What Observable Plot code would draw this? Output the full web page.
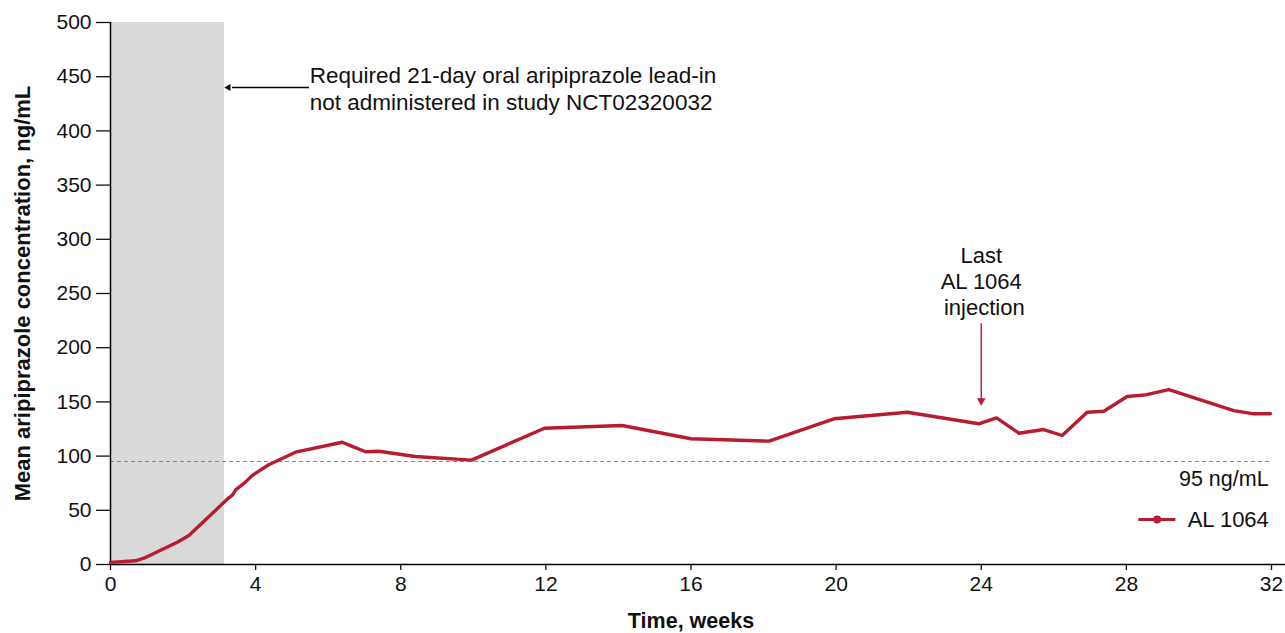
<!DOCTYPE html>
<html><head><meta charset="utf-8">
<script src="https://cdn.jsdelivr.net/npm/d3@7"></script>
<script src="https://cdn.jsdelivr.net/npm/@observablehq/plot@0.6"></script>
<style>
body{margin:0;background:#fff}
#chart{width:1285px;height:633px}
</style>
</head><body><div id="chart"></div>
<script>
// ---- data ----
const weeks = [0, 0.69, 0.92, 1.84, 2.16, 3.26, 3.36, 3.45, 3.72, 3.9, 4.36, 5.1, 6.39, 6.66, 7.03, 7.4, 8.4, 9.95, 11.96, 14.1, 16.0, 18.15, 19.94, 21.96, 23.93, 24.42, 25.04, 25.72, 26.23, 26.92, 27.38, 28.02, 28.53, 29.17, 30.96, 31.51, 31.97];
const concentration = [2, 3.4, 5.8, 20.6, 26.7, 61.5, 64, 68.9, 76, 82, 92, 103.6, 112.8, 109, 104, 104.5, 99.6, 96.3, 125.7, 128.2, 116, 113.8, 134.4, 140.5, 129.8, 135.3, 121.1, 124.5, 119, 140.5, 141.4, 155, 156.5, 161.4, 142, 139, 139];
const seriesName = "AL 1064";
const xTicks = [0, 4, 8, 12, 16, 20, 24, 28, 32];
const yTicks = [0, 50, 100, 150, 200, 250, 300, 350, 400, 450, 500];
const thresholdValue = 95;
const thresholdLabel = "95 ng/mL";
const leadInEndWeek = 3.14;
const leadInText = "Required 21-day oral aripiprazole lead-in\nnot administered in study NCT02320032";
const lastInjectionWeek = 24;
const lastInjectionText = "Last\nAL 1064\n injection";
const xLabel = "Time, weeks";
const yLabel = "Mean aripiprazole concentration, ng/mL";

const series = weeks.map((w, i) => ({week: w, value: concentration[i]}));
const red = "#b71c31";
const font = "'Liberation Sans', Arial, sans-serif";

const chart = Plot.plot({
  width: 1285,
  height: 633,
  marginLeft: 110,
  marginRight: 14,
  marginTop: 22,
  marginBottom: 69,
  style: {fontFamily: font, fontSize: "21px", color: "#111", background: "#fff"},
  x: {domain: [0, 32]},
  y: {domain: [0, 500]},
  marks: [
    // lead-in shaded band
    Plot.rect([{x1: 0, x2: leadInEndWeek}], {x1: "x1", x2: "x2", y1: 0, y2: 500, fill: "#d9d9d9"}),
    // threshold
    Plot.ruleY([thresholdValue], {x1: 0, x2: 32, stroke: "#8a8a8a", strokeWidth: 1.2, strokeDasharray: "4,3"}),
    Plot.text([thresholdLabel], {x: 31.92, y: 79, text: d => d, textAnchor: "end", fontSize: 21.5}),
    // axes
    Plot.axisY({ticks: yTicks, tickSize: 14, tickPadding: 5, label: null, fontSize: 21, strokeWidth: 1.3}),
    Plot.axisX({ticks: xTicks, tickSize: 6, tickPadding: 6, label: null, fontSize: 21, strokeWidth: 1.3}),
    Plot.ruleX([0], {y1: 0, y2: 500, stroke: "#000", strokeWidth: 1.5}),
    Plot.ruleY([0], {x1: 0, x2: 32.4, stroke: "#000", strokeWidth: 1.5}),
    // series line
    Plot.line(series, {x: "week", y: "value", stroke: red, strokeWidth: 3.4, strokeLinejoin: "round"}),
    // lead-in annotation
    Plot.link([{a: 5.47, b: 3.35}], {x1: "a", x2: "b", y1: 440, y2: 440, stroke: "#000", strokeWidth: 1.4}),
    Plot.dot([{a: 3.25}], {x: "a", y: 440, symbol: "triangle", r: 2.6, fill: "#000", stroke: null, rotate: -90}),
    Plot.text([leadInText], {x: 5.49, y: 440, text: d => d, textAnchor: "start", lineAnchor: "middle", lineHeight: 1.23, fontSize: 22.5}),
    // last injection annotation
    Plot.text([lastInjectionText], {x: lastInjectionWeek, y: 262, text: d => d, textAnchor: "middle", lineAnchor: "middle", lineHeight: 1.2, fontSize: 22}),
    Plot.link([{w: lastInjectionWeek}], {x1: "w", x2: "w", y1: 222.5, y2: 152, stroke: red, strokeWidth: 1.4}),
    Plot.dot([{w: lastInjectionWeek}], {x: "w", y: 151, symbol: "triangle", r: 3.2, fill: red, stroke: null, rotate: 180}),
    // legend
    Plot.link([{a: 28.33, b: 29.35}], {x1: "a", x2: "b", y1: 41.5, y2: 41.5, stroke: red, strokeWidth: 3.2}),
    Plot.dot([{a: 28.85}], {x: "a", y: 41.5, r: 4, fill: red, stroke: null}),
    Plot.text([seriesName], {x: 29.69, y: 41.5, text: d => d, textAnchor: "start", fontSize: 22}),
    // axis titles
    Plot.text([xLabel], {frameAnchor: "bottom", dy: 63, text: d => d, fontWeight: "bold", fontSize: 21.5}),
    Plot.text([yLabel], {frameAnchor: "left", dx: -88, rotate: -90, textAnchor: "middle", text: d => d, fontWeight: "bold", fontSize: 22})
  ]
});
document.getElementById("chart").appendChild(chart);
</script>
</body></html>
